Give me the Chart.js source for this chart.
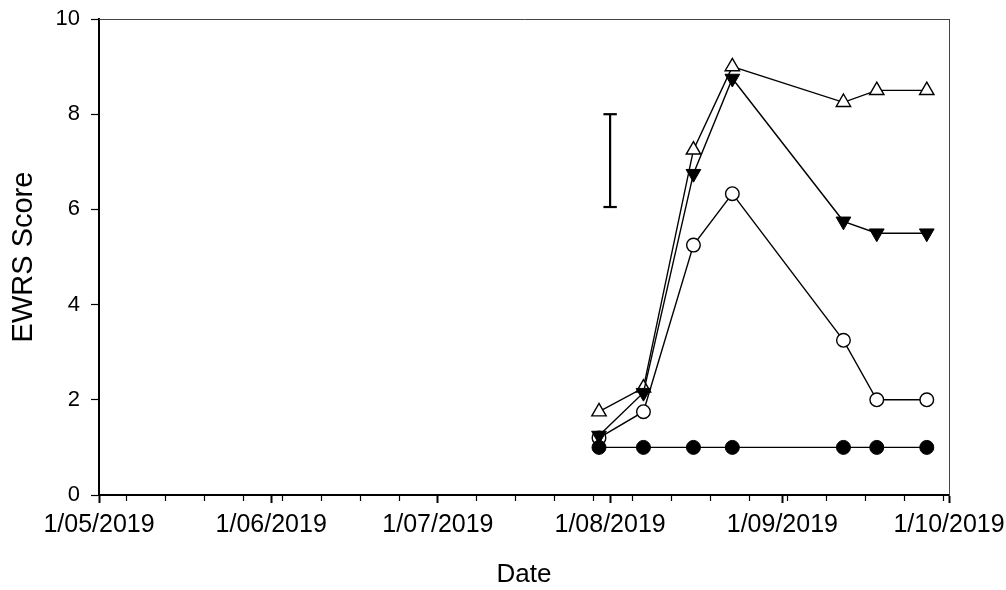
<!DOCTYPE html>
<html><head><meta charset="utf-8">
<script src="https://cdn.jsdelivr.net/npm/chart.js@4.4.1/dist/chart.umd.min.js"></script>
<style>html,body{margin:0;padding:0;background:#fff}#wrap{width:1006px;height:590px}</style>
</head><body><div id="wrap"><canvas id="c" width="1006" height="590"></canvas></div>
<script>
// ---- data ----
const sampleDates = ['2019-07-30','2019-08-07','2019-08-16','2019-08-23','2019-09-12','2019-09-18','2019-09-27'];
const filledCircle   = [1, 1, 1, 1, 1, 1, 1];
const openCircle     = [1.2, 1.75, 5.25, 6.33, 3.25, 2.0, 2.0];
const openTriangle   = [1.75, 2.25, 7.25, 9.0, 8.25, 8.5, 8.5];
const filledTriangle = [1.25, 2.15, 6.75, 8.75, 5.75, 5.5, 5.5];
const lsdDate  = '2019-08-01';
const lsdRange = [6.05, 8.0];
const monthDates  = ['2019-05-01','2019-06-01','2019-07-01','2019-08-01','2019-09-01','2019-10-01'];
const monthLabels = ['1/05/2019','1/06/2019','1/07/2019','1/08/2019','1/09/2019','1/10/2019'];
const firstMinorTick = '2019-05-06';
const yTicks = [0, 2, 4, 6, 8, 10];

// ---- helpers ----
const origin = Date.parse(monthDates[0]);
const day = s => Math.round((Date.parse(s) - origin) / 864e5);
const monthDays = monthDates.map(day);
const FONT = '"Liberation Sans", Arial, sans-serif';
const pts = arr => sampleDates.map((d, i) => ({x: day(d), y: arr[i]}));
const isMajor = ctx => ctx.tick && monthDays.indexOf(ctx.tick.value) >= 0;

new Chart(document.getElementById('c'), {
  type: 'line',
  data: {
    datasets: [
      { label: 'open circle', data: pts(openCircle), order: 5,
        borderColor: '#000', borderWidth: 1.4, pointStyle: 'circle', pointRadius: 6.8,
        pointBackgroundColor: '#fff', pointBorderColor: '#000', pointBorderWidth: 1.4 },
      { label: 'filled circle', data: pts(filledCircle), order: 4,
        borderColor: '#000', borderWidth: 1.4, pointStyle: 'circle', pointRadius: 7,
        pointBackgroundColor: '#000', pointBorderColor: '#000', pointBorderWidth: 1 },
      { label: 'open triangle', data: pts(openTriangle), order: 3,
        borderColor: '#000', borderWidth: 1.4, pointStyle: 'triangle', pointRadius: 8.3,
        pointBackgroundColor: '#fff', pointBorderColor: '#000', pointBorderWidth: 1.4 },
      { label: 'filled triangle', data: pts(filledTriangle), order: 2,
        borderColor: '#000', borderWidth: 1.4, pointStyle: 'triangle', pointRotation: 180, pointRadius: 8.5,
        pointBackgroundColor: '#000', pointBorderColor: '#000', pointBorderWidth: 1 },
      { label: 'LSD', data: lsdRange.map(v => ({x: day(lsdDate), y: v})), order: 0,
        borderColor: '#000', borderWidth: 2.2, pointStyle: 'line', pointRadius: 6.7,
        pointBorderColor: '#000', pointBorderWidth: 2.2 }
    ]
  },
  options: {
    responsive: false, animation: false, devicePixelRatio: 1, events: [],
    layout: { padding: { top: 19, right: 57, left: 0, bottom: 0 } },
    plugins: { legend: { display: false }, tooltip: { enabled: false } },
    scales: {
      x: {
        type: 'linear', position: 'bottom', min: monthDays[0], max: monthDays[monthDays.length - 1], weight: 0,
        afterBuildTicks: s => {
          const t = monthDays.map(v => ({value: v}));
          for (let v = day(firstMinorTick); v < s.max; v += 7) if (monthDays.indexOf(v) < 0) t.push({value: v});
          t.sort((a, b) => a.value - b.value);
          s.ticks = t;
        },
        afterFit: s => { s.height = 95; s.paddingLeft = 0; s.paddingRight = 0; },
        grid: { drawOnChartArea: false, tickLength: 8, tickColor: '#000',
          tickWidth: ctx => isMajor(ctx) ? 2 : 1.2,
          tickBorderDash: ctx => isMajor(ctx) ? [] : [5, 20] },
        border: { color: '#000', width: 2 },
        ticks: { autoSkip: false, maxRotation: 0, minRotation: 0, padding: 7, color: '#000',
          font: { family: FONT, size: 25 },
          callback: v => { const i = monthDays.indexOf(v); return i >= 0 ? monthLabels[i] : ''; } },
        title: { display: true, text: 'Date', color: '#000', font: { family: FONT, size: 26 }, padding: { top: 0, bottom: 0 } }
      },
      y: {
        type: 'linear', position: 'left', min: 0, max: 10,
        afterBuildTicks: s => { s.ticks = yTicks.map(v => ({value: v})); },
        afterFit: s => { s.width = 99; s.paddingTop = 0; s.paddingBottom = 0; },
        grid: { drawOnChartArea: false, tickLength: 8, tickColor: '#000', tickWidth: 1.2 },
        border: { color: '#000', width: 2 },
        ticks: { padding: 11, color: '#000', font: { family: FONT, size: 22 } },
        title: { display: true, text: 'EWRS Score', color: '#000', font: { family: FONT, size: 29 }, padding: { top: 7, bottom: 0 } }
      },
      xTop: {
        type: 'linear', position: 'top', display: true, min: 0, max: 1,
        ticks: { display: false }, grid: { display: false, drawTicks: false },
        border: { display: true, color: '#444', width: 1 },
        afterFit: s => { s.height = 0; s.paddingLeft = 0; s.paddingRight = 0; }
      },
      yRight: {
        type: 'linear', position: 'right', display: true, min: 0, max: 1,
        ticks: { display: false }, grid: { display: false, drawTicks: false },
        border: { display: true, color: '#444', width: 1 },
        afterFit: s => { s.width = 0; s.paddingTop = 0; s.paddingBottom = 0; }
      }
    }
  }
});
</script>
</body></html>
